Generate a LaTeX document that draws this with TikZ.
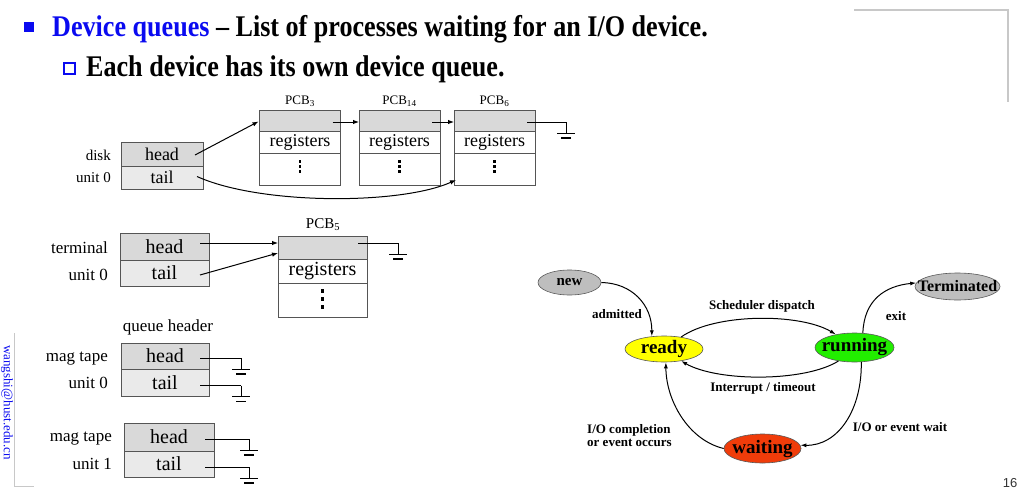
\documentclass[tikz,border=0pt]{standalone}
\usepackage{fontspec}
\setmainfont{Liberation Serif}
\newfontfamily\numfont{Liberation Sans}
\usepackage{graphicx}
\usetikzlibrary{arrows.meta,shapes.geometric,calc}

\definecolor{titleblue}{HTML}{0A0AF0}
\definecolor{headfill}{HTML}{D9D9D9}
\definecolor{tailfill}{HTML}{EAEAEA}
\definecolor{boxline}{HTML}{555555}
\definecolor{newgray}{HTML}{BEBEBE}
\definecolor{readyyellow}{HTML}{FFFF00}
\definecolor{rungreen}{HTML}{22EE00}
\definecolor{waitred}{HTML}{F03C0A}
\definecolor{framegray}{HTML}{C8C8C8}

\newcommand\fsz[1]{\fontsize{#1}{#1}\selectfont}

\tikzset{
  qcell/.style={draw=boxline, line width=0.8pt, inner sep=0pt, outer sep=0pt},
  hd/.style={qcell, fill=headfill},
  tl/.style={qcell, fill=tailfill},
  pcbrow/.style={qcell, fill=white},
  qlabel/.style={anchor=east, inner sep=0pt},
  ptr/.style={line width=1pt, -{Latex[length=6pt,width=4.5pt]}},
  wire/.style={line width=1pt},
  state/.style={ellipse, draw=gray!70!black, line width=0.6pt, inner sep=0pt, font=\bfseries},
  trans/.style={line width=1pt, -{Latex[length=6pt,width=4pt]}},
  tlabel/.style={font=\bfseries\fsz{13}, inner sep=0pt},
  vdots/.style={line width=2.2pt, dash pattern=on 3pt off 2pt},
  gnd/.pic={
    \draw[line width=1pt] (0,0) -- (0,11);
    \draw[line width=1pt] (-9,11) -- (9,11);
    \draw[line width=1.6pt] (-5,16) -- (5,16);
  }
}

\begin{document}
\begin{tikzpicture}[x=1pt,y=-1pt]
\useasboundingbox (0,0) rectangle (1024,492);

% frame fragments
\draw[framegray, line width=1.2pt] (854,10) -- (1008,10) -- (1008,102);
\draw[framegray, line width=1pt] (14,333) -- (14,486) -- (34,486);

% heading lines
\node[fill=titleblue, minimum size=10pt, inner sep=0pt] (b1) at (29,27) {};
\node[anchor=base west, inner sep=0pt, font=\bfseries\fsz{30}] (title) at (52,37)
  {\scalebox{0.87}[1]{\textcolor{titleblue}{Device queues} -- List of processes waiting for an I/O device.}};
\node[draw=titleblue, line width=2.2pt, minimum size=11pt, inner sep=0pt] (b2) at (69.5,68.5) {};
\node[anchor=base west, inner sep=0pt, font=\bfseries\fsz{30}] (sub) at (86,77)
  {\scalebox{0.87}[1]{Each device has its own device queue.}};

% side mail address
\node[rotate=-90, anchor=base west, inner sep=0pt, font=\fsz{13}, text=titleblue] (mail) at (4,345) {wangshi@hust.edu.cn};

% ---------- disk unit 0 ----------
\node[hd, minimum width=82pt, minimum height=24pt, font=\fsz{18}] (dh) at (162,154) {head};
\node[tl, minimum width=82pt, minimum height=23pt, font=\fsz{18}] (dt) at (162,177.5) {tail};
\node[qlabel, font=\fsz{15}] (dl1) at (111,155) {disk};
\node[qlabel, font=\fsz{15}] (dl2) at (111,178) {unit 0};

% PCB blocks of the disk queue
\foreach \nm/\cx/\sub in {p3/300/3, p14/399.5/14, p6/494.5/6}{
  \node[hd, minimum width=81pt, minimum height=21pt] (\nm t) at (\cx,120.5) {};
  \node[pcbrow, minimum width=81pt, minimum height=22pt, font=\fsz{18}] (\nm r) at (\cx,142) {registers};
  \node[pcbrow, minimum width=81pt, minimum height=32pt] (\nm d) at (\cx,169) {};
  \node[font=\fsz{13}, inner sep=0pt] (\nm l) at (\cx,101) {PCB\textsubscript{\sub}};
  \draw[vdots] ($(\nm d.center)+(0,-9)$) -- ($(\nm d.center)+(0,4)$);
}
\draw[ptr] ($(dh.east)+(-8,1)$) -- ($(p3t.west)+(-1,1)$);
\draw[ptr] ($(p3t.east)+(-8,1.5)$) -- ($(p14t.west)+(0,1.5)$);
\draw[ptr] ($(p14t.east)+(-8,1.5)$) -- ($(p6t.west)+(0,1.5)$);
\coordinate (g6) at (566,122);
\draw[wire] ($(p6t.east)+(-8,1.5)$) -- (g6);
\pic at (g6) {gnd};
\draw[ptr] ($(dt.east)+(-6,-1)$) .. controls (260,205) and (400,205) .. ($(p6d.west)+(2,11)$);

% ---------- terminal unit 0 ----------
\node[hd, minimum width=89pt, minimum height=27pt, font=\fsz{20}] (th) at (164.5,246.5) {head};
\node[tl, minimum width=89pt, minimum height=26pt, font=\fsz{20}] (tt) at (164.5,273) {tail};
\node[qlabel, font=\fsz{17}] (tl1) at (108,248) {terminal};
\node[qlabel, font=\fsz{17}] (tl2) at (108,275) {unit 0};

\node[hd, minimum width=89pt, minimum height=23pt] (p5t) at (322.5,247.5) {};
\node[pcbrow, minimum width=89pt, minimum height=24pt, font=\fsz{20}] (p5r) at (322.5,271) {registers};
\node[pcbrow, minimum width=89pt, minimum height=34pt] (p5d) at (322.5,300) {};
\node[font=\fsz{15}, inner sep=0pt] (p5l) at (323,225) {PCB\textsubscript{5}};
\draw[vdots, line width=2.6pt, dash pattern=on 4pt off 4pt] ($(p5d.center)+(0,-11)$) -- ($(p5d.center)+(0,9)$);
\draw[ptr] ($(th.east)+(-9,-3.5)$) -- ($(p5t.west)+(0,-4.5)$);
\draw[ptr] ($(tt.east)+(-9,2)$) -- ($(p5t.west)+(0,5.5)$);
\coordinate (g5) at (398,243);
\draw[wire] ($(p5t.east)+(-9,-4.5)$) -- (g5);
\pic at (g5) {gnd};

% ---------- mag tape unit 0 ----------
\node[font=\fsz{17}, inner sep=0pt] (qh) at (168,327) {queue header};
\node[hd, minimum width=88pt, minimum height=26pt, font=\fsz{20}] (m0h) at (165,356) {head};
\node[tl, minimum width=88pt, minimum height=27pt, font=\fsz{20}] (m0t) at (165,382.5) {tail};
\node[qlabel, font=\fsz{17}] (ml1) at (108,359) {mag tape};
\node[qlabel, font=\fsz{17}] (ml2) at (108,383) {unit 0};
\coordinate (gm0h) at (241,358);
\coordinate (gm0t) at (241,385.5);
\draw[wire] ($(m0h.east)+(-9,2)$) -- (gm0h);
\draw[wire] ($(m0t.east)+(-9,3)$) -- (gm0t);
\pic at (gm0h) {gnd};
\pic at (gm0t) {gnd};

% ---------- mag tape unit 1 ----------
\node[hd, minimum width=90pt, minimum height=28pt, font=\fsz{20}] (m1h) at (169,437) {head};
\node[tl, minimum width=90pt, minimum height=26pt, font=\fsz{20}] (m1t) at (169,464) {tail};
\node[qlabel, font=\fsz{17}] (ml3) at (112,439) {mag tape};
\node[qlabel, font=\fsz{17}] (ml4) at (112,464) {unit 1};
\coordinate (gm1h) at (249,439);
\coordinate (gm1t) at (249,467);
\draw[wire] ($(m1h.east)+(-9,2)$) -- (gm1h);
\draw[wire] ($(m1t.east)+(-9,3)$) -- (gm1t);
\pic at (gm1h) {gnd};
\pic at (gm1t) {gnd};

% ---------- process state diagram ----------
\node[state, fill=newgray, minimum width=63pt, minimum height=25pt, font=\bfseries\fsz{15}] (new) at (569.5,282.5) {\makebox[0pt]{new}};
\node[state, fill=readyyellow, minimum width=78pt, minimum height=26pt, font=\bfseries\fsz{19}] (ready) at (664,349) {\makebox[0pt]{ready}};
\node[state, fill=rungreen, minimum width=79pt, minimum height=29pt, font=\bfseries\fsz{19}] (running) at (854.5,347.5) {\makebox[0pt]{running}};
\node[state, fill=newgray, minimum width=85pt, minimum height=27pt, font=\bfseries\fsz{16}] (term) at (957.5,286.5) {\makebox[0pt]{Terminated}};
\node[state, fill=waitred, minimum width=77pt, minimum height=29pt, font=\bfseries\fsz{19}] (waiting) at (762.5,448.5) {\makebox[0pt]{waiting}};

\draw[trans] (new.east) .. controls (632,283) and (652,305) .. (ready.134);
\draw[trans] (ready.35) .. controls (715,313) and (800,313) .. (running.145);
\draw[trans] (running.220) .. controls (805,382) and (718,382) .. (ready.-35);
\draw[trans] (running.60) .. controls (864,300) and (885,286) .. (term.175);
\draw[trans] (running.-65) .. controls (862,410) and (838,446) .. (waiting.5);
\draw[trans] (waiting.west) .. controls (688,440) and (666,400) .. (ready.-82);

\node[tlabel] (la) at (617,314) {admitted};
\node[tlabel] (ls) at (762,306) {Scheduler dispatch};
\node[tlabel] (li) at (763,388) {Interrupt / timeout};
\node[tlabel] (le) at (896,316) {exit};
\node[tlabel] (lw) at (900,427) {I/O or event wait};
\node[tlabel, anchor=west, align=left] (lc) at (587,436) {I/O completion\\or event occurs};

% page number
\node[font=\numfont\fsz{13}, text=black!80, inner sep=0pt] (pg) at (1010,483) {16};
\end{tikzpicture}
\end{document}
